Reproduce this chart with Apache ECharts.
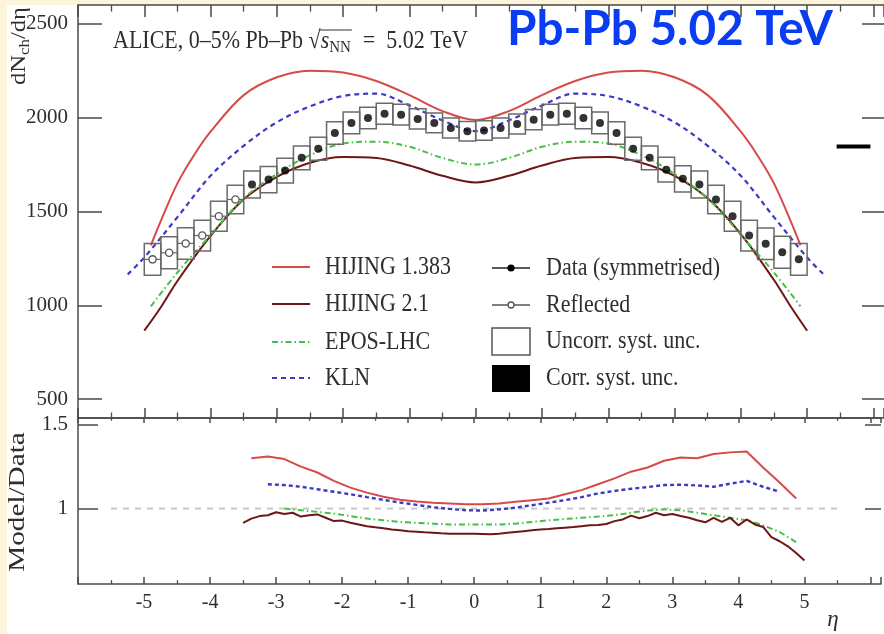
<!DOCTYPE html>
<html><head><meta charset="utf-8">
<script src="https://cdn.jsdelivr.net/npm/echarts@6/dist/echarts.min.js"></script>
<style>
html,body{margin:0;padding:0;background:#fcf4db;}
#wrap{position:relative;width:884px;height:634px;background:#fcf4db;overflow:hidden}
#paper{position:absolute;left:7px;top:5px;width:877px;height:629px;background:#fff}
#chart{position:absolute;left:0;top:0;width:884px;height:634px}
</style></head><body>
<div id="wrap"><div id="paper"></div><div id="chart"></div></div>
<script>
// ---------------- DATA ----------------
// Reflected points (open circles)
const reflEta = [-4.875,-4.625,-4.375,-4.125,-3.875,-3.625];
const reflVal = [1245,1280,1330,1372,1475,1564];
// Symmetrised data (filled circles)
const symEta = [-3.375,-3.125,-2.875,-2.625,-2.375,-2.125,-1.875,-1.625,-1.375,-1.125,-0.875,-0.625,-0.375,-0.125,
  0.125,0.375,0.625,0.875,1.125,1.375,1.625,1.875,2.125,2.375,2.625,2.875,3.125,3.375,3.625,3.875,4.125,4.375,4.625,4.875];
const symVal = [1644,1670,1718,1786,1834,1918,1972,1998,2021,2016,1993,1972,1945,1927,
  1932,1945,1966,1989,2016,2021,1998,1972,1918,1834,1786,1723,1674,1644,1564,1475,1372,1328,1283,1245];
// Uncorrelated systematic uncertainty (half height) for reflected + symmetrised bins, in order
const uncorrSyst = [85,85,84,82,80,76,
  72,70,66,63,61,60,58,57,56,55,54,53,53,52,
  52,53,53,54,55,56,57,58,60,61,63,66,70,72,76,80,82,84,85,85];
// Correlated systematic uncertainty box
const corrEta = [5.7];
const corrVal = [1846];
const corrUnc = [11];

// Model curves (upper panel)
const h1383Eta = [-4.9,-4.75,-4.5,-4.25,-4.0,-3.5,-3.0,-2.5,-2.0,-1.5,-1.0,-0.5,0,0.5,1.0,1.5,2.0,2.5,3.0,3.5,4.0,4.25,4.5,4.75,4.9];
const h1383Val = [1320,1450,1650,1800,1925,2120,2215,2250,2240,2195,2120,2035,1988,2035,2120,2195,2240,2250,2215,2120,1925,1800,1650,1450,1320];
const h21Eta = [-5,-4.75,-4.5,-4.0,-3.5,-3.0,-2.5,-2.0,-1.5,-1.0,-0.5,0,0.5,1.0,1.5,2.0,2.5,3.0,3.5,4.0,4.5,4.75,5];
const h21Val = [865,990,1130,1370,1565,1685,1760,1790,1785,1745,1690,1655,1690,1745,1785,1790,1760,1690,1570,1380,1135,995,865];
const eposEta = [-4.9,-4.5,-4.0,-3.5,-3.0,-2.5,-2.0,-1.5,-1.0,-0.5,0,0.5,1.0,1.5,2.0,2.5,3.0,3.5,4.0,4.5,4.9];
const eposVal = [995,1175,1375,1570,1700,1800,1862,1872,1845,1785,1750,1785,1845,1872,1862,1800,1700,1570,1375,1175,995];
const klnEta = [-5.25,-5.0,-4.5,-4.0,-3.5,-3.0,-2.5,-2.0,-1.5,-1.0,-0.5,0,0.5,1.0,1.5,2.0,2.5,3.0,3.5,4.0,4.5,5.0,5.25];
const klnVal = [1165,1255,1470,1690,1850,1975,2060,2115,2128,2065,1985,1928,1985,2065,2128,2115,2060,1975,1850,1690,1470,1255,1165];

// Ratio curves (lower panel)
const refEta = [-5.5,5.5];
const refVal = [1,1];
const rH1383Eta = [-3.375,-3.125,-2.875,-2.625,-2.375,-2.125,-1.875,-1.625,-1.375,-1.125,-0.875,-0.625,-0.375,-0.125,
  0.125,0.375,0.625,0.875,1.125,1.375,1.625,1.875,2.125,2.375,2.625,2.875,3.125,3.375,3.625,3.875,4.125,4.375,4.625,4.875];
const rH1383 = [1.30,1.31,1.295,1.25,1.215,1.165,1.125,1.095,1.07,1.052,1.042,1.035,1.03,1.025,
  1.025,1.03,1.04,1.05,1.06,1.085,1.11,1.145,1.18,1.22,1.245,1.285,1.305,1.30,1.325,1.335,1.34,1.245,1.155,1.06];
const rKlnEta = [-3.125,-2.875,-2.625,-2.375,-2.125,-1.875,-1.625,-1.375,-1.125,-0.875,-0.625,-0.375,-0.125,
  0.125,0.375,0.625,0.875,1.125,1.375,1.625,1.875,2.125,2.375,2.625,2.875,3.125,3.375,3.625,3.875,4.125,4.375,4.625];
const rKln = [1.145,1.14,1.13,1.115,1.10,1.085,1.068,1.052,1.036,1.022,1.008,0.998,0.99,
  0.988,0.995,1.005,1.02,1.035,1.05,1.068,1.09,1.105,1.118,1.128,1.14,1.142,1.138,1.13,1.148,1.165,1.13,1.10];
const rEposEta = [-2.875,-2.625,-2.375,-2.125,-1.875,-1.625,-1.375,-1.125,-0.875,-0.625,-0.375,-0.125,
  0.125,0.375,0.625,0.875,1.125,1.375,1.625,1.875,2.125,2.375,2.625,2.875,3.125,3.375,3.625,3.875,4.125,4.375,4.625,4.875];
const rEpos = [1.0,0.99,0.98,0.97,0.955,0.94,0.93,0.92,0.915,0.91,0.905,0.905,
  0.905,0.905,0.91,0.92,0.93,0.938,0.945,0.952,0.96,0.975,0.988,0.995,0.99,0.975,0.96,0.945,0.93,0.9,0.86,0.80];
const rH21Eta = [-3.5,-3.375,-3.25,-3.125,-3.0,-2.875,-2.75,-2.625,-2.5,-2.375,-2.25,-2.125,-2.0,-1.875,-1.75,-1.625,-1.5,-1.375,-1.25,-1.125,-1.0,-0.875,-0.75,-0.625,-0.5,-0.375,-0.25,-0.125,
  0,0.125,0.25,0.375,0.5,0.625,0.75,0.875,1.0,1.125,1.25,1.375,1.5,1.625,1.75,1.875,2.0,2.125,2.25,2.375,2.5,2.625,2.75,2.875,3.0,3.125,3.25,3.375,3.5,3.625,3.75,3.875,4.0,4.125,4.25,4.375,4.5,4.625,4.75,4.875,5.0];
const rH21 = [0.915,0.94,0.955,0.96,0.978,0.968,0.975,0.952,0.96,0.965,0.945,0.925,0.928,0.915,0.905,0.895,0.888,0.882,0.875,0.87,0.865,0.862,0.858,0.855,0.852,0.85,0.85,0.85,
  0.85,0.848,0.846,0.85,0.855,0.86,0.865,0.87,0.875,0.878,0.882,0.886,0.89,0.895,0.9,0.902,0.908,0.925,0.935,0.958,0.942,0.955,0.975,0.96,0.968,0.955,0.945,0.93,0.918,0.945,0.92,0.945,0.9,0.935,0.905,0.89,0.83,0.805,0.775,0.735,0.69];

// Tick labels
const yTicksTop = [500,1000,1500,2000,2500];
const yTicksBot = [1,1.5];

// ---------------- STYLE ----------------
const C = {h1383:'#d64a48', h21:'#6e1616', epos:'#48bf48', kln:'#3a3ac6'};
const TXT = '#2e2e2e', AX = '#4a4a4a';
const SERIF = '"Liberation Serif","DejaVu Serif",serif';
const zip = (xs, ys) => xs.map((x,i)=>[x, ys[i]]);
const ctx = document.createElement('canvas').getContext('2d');
const tw = (t,f) => { ctx.font = f; return ctx.measureText(t).width; };

const XMIN = -6, XMAX = 6.16;
function xAx(gi, pos, len, lab){
  return {type:'value', gridIndex:gi, position:pos, min:XMIN, max:XMAX, interval:1,
    axisLine:{show:true, onZero:false, lineStyle:{color:AX, width:1.5}},
    axisTick:{show:true, inside:true, length:len, lineStyle:{color:AX, width:1.5}},
    minorTick:{show:true, splitNumber:2, length:len*0.55, lineStyle:{color:AX, width:1.3}},
    splitLine:{show:false}, minorSplitLine:{show:false},
    axisLabel:{show:lab, margin:9, color:TXT, fontFamily:SERIF, fontSize:20,
      formatter: v => (v < -5.5 || v > 5.5) ? '' : String(v)}};
}
function yAx(gi, pos, mn, mx, ticks, len, lab, line){
  return {type:'value', gridIndex:gi, position:pos, min:mn, max:mx,
    axisLine:{show:line, onZero:false, lineStyle:{color:AX, width:1.5}},
    axisTick:{show:true, inside:true, length:len, customValues:ticks, lineStyle:{color:AX, width:1.5}},
    splitLine:{show:false},
    axisLabel:{show:lab, customValues:ticks, margin:10, color:TXT, fontFamily:SERIF, fontSize:21,
      formatter: v => String(v)}};
}

const boxData = zip(reflEta.concat(symEta), reflVal.concat(symVal)).map((p,i)=>[p[0],p[1],uncorrSyst[i]]);
const BIN_HALF = 0.125;

function lineS(name, xs, ys, color, type, xi, yi, smooth, width){
  return {name, type:'line', xAxisIndex:xi, yAxisIndex:yi, data:zip(xs,ys), showSymbol:false, smooth:smooth,
    lineStyle:{color, width:width||2, type:type}, z:3, animation:false};
}
const DASH = [5,4], DASHDOT = [6,3,1.5,3];

const series = [
  lineS('HIJING 1.383', h1383Eta, h1383Val, C.h1383, 'solid', 0, 0, 0.35),
  lineS('HIJING 2.1', h21Eta, h21Val, C.h21, 'solid', 0, 0, 0.35),
  lineS('EPOS-LHC', eposEta, eposVal, C.epos, DASHDOT, 0, 0, 0.35),
  lineS('KLN', klnEta, klnVal, C.kln, DASH, 0, 0, 0.35, 2.2),
  {name:'Uncorr. syst. unc.', type:'custom', xAxisIndex:0, yAxisIndex:0, data:boxData, z:4,
    renderItem:(p, api)=>{
      const x=api.value(0), y=api.value(1), e=api.value(2);
      const a=api.coord([x-BIN_HALF, y+e]), b=api.coord([x+BIN_HALF, y-e]);
      return {type:'rect', shape:{x:a[0], y:a[1], width:b[0]-a[0], height:b[1]-a[1]},
        style:{fill:'none', stroke:'#6a6a6a', lineWidth:1.5}};
    }},
  {name:'Reflected', type:'custom', xAxisIndex:0, yAxisIndex:0, data:zip(reflEta, reflVal), z:5,
    renderItem:(p, api)=>{
      const x=api.value(0), y=api.value(1);
      const a=api.coord([x-BIN_HALF, y]), b=api.coord([x+BIN_HALF, y]), c=api.coord([x,y]);
      return {type:'group', children:[
        {type:'line', shape:{x1:a[0], y1:a[1], x2:b[0], y2:b[1]}, style:{stroke:'#666', lineWidth:1.2}},
        {type:'circle', shape:{cx:c[0], cy:c[1], r:3.6}, style:{fill:'#fff', stroke:'#555', lineWidth:1.3}}]};
    }},
  {name:'Data (symmetrised)', type:'scatter', xAxisIndex:0, yAxisIndex:0, data:zip(symEta, symVal),
    symbol:'circle', symbolSize:8, itemStyle:{color:'#000'}, z:6},
  {name:'Corr. syst. unc.', type:'custom', xAxisIndex:0, yAxisIndex:0, data:zip(corrEta, corrVal).map((p,i)=>[p[0],p[1],corrUnc[i]]), z:6,
    renderItem:(p, api)=>{
      const x=api.value(0), y=api.value(1), e=api.value(2);
      const a=api.coord([x-0.255, y+e]), b=api.coord([x+0.255, y-e]);
      return {type:'rect', shape:{x:a[0], y:a[1], width:b[0]-a[0], height:b[1]-a[1]}, style:{fill:'#000'}};
    }},
  // lower panel
  {name:'ref', type:'line', xAxisIndex:2, yAxisIndex:2, data:zip(refEta, refVal), showSymbol:false,
    lineStyle:{color:'#c9c9c9', width:2, type:[6,6]}, z:2},
  lineS('HIJING 1.383 r', rH1383Eta, rH1383, C.h1383, 'solid', 2, 2, false),
  lineS('KLN r', rKlnEta, rKln, C.kln, [4,3], 2, 2, false, 2.4),
  lineS('EPOS r', rEposEta, rEpos, C.epos, DASHDOT, 2, 2, false),
  lineS('HIJING 2.1 r', rH21Eta, rH21, C.h21, 'solid', 2, 2, false),
];

// ---------------- GRAPHICS (labels, legend) ----------------
const G = [];
function txt(t, x, y, font, opt){
  opt = opt || {};
  G.push(Object.assign({type:'text', x, y, z:10, style:{text:t, font, fill:opt.fill||TXT,
    align:opt.align||'left', verticalAlign:opt.va||'middle'}}, opt.el||{}));
}
// Title
(function(){
  const base = 'bold 44px Lato';
  const w = tw('Pb-Pb 5.02 TeV', base);
  const size = 44*326/w;
  txt('Pb-Pb 5.02 TeV', 507, 30, 'bold '+size.toFixed(1)+'px Lato', {fill:'#0a3df2'});
})();
// ALICE label
(function(){
  const F=22, sy=1.15, yM=41;
  const fm=F+'px '+SERIF, fi='italic '+F+'px '+SERIF, fs=Math.round(F*0.68)+'px '+SERIF;
  let x=113;
  const add=(t,f,dy)=>{ txt(t, x, yM+dy, f, {el:{scaleY:sy}}); x+=tw(t,f); };
  add('ALICE, 0–5% Pb–Pb ', fm, 0);
  add('√', fm, 0);
  const s0=x;
  add('s', fi, 0);
  add('NN', fs, 6);
  const s1=x;
  x += 12;
  add('=', fm, 0);
  x += 11;
  add('5.02 TeV', fm, 0);
  G.push({type:'line', z:10, shape:{x1:s0-1, y1:yM-11, x2:s1+1, y2:yM-11}, style:{stroke:TXT, lineWidth:1.2}});
})();
// Y title (rotated, reading upward, bottom end at y=86)
(function(){
  const F=22, fm=F+'px '+SERIF, fs='15px '+SERIF;
  const parts=[['d',fm,0],['N',fm,0],['ch',fs,6],['/',fm,0],['d',fm,0],['η',fm,0]];
  const ch=[]; let xx=0;
  parts.forEach(p=>{ ch.push({type:'text', x:xx, y:p[2], style:{text:p[0], font:p[1], fill:TXT, align:'left', verticalAlign:'middle'}}); xx+=tw(p[0],p[1]); });
  G.push({type:'group', x:19, y:85, rotation:Math.PI/2, scaleX:78/xx, z:10, children:ch});
})();
txt('Model/Data', 18, 502, '23px '+SERIF, {align:'center', el:{rotation:Math.PI/2, scaleX:1.27}});
txt('η', 833, 620, 'italic 23px '+SERIF, {align:'center'});

// Legend
const LF = '22px '+SERIF, LSY = 1.15;
[[series[0], 267],[series[1], 304],[series[2], 342],[series[3], 378]].forEach(([s, y])=>{
  G.push({type:'line', z:10, shape:{x1:272, y1:y, x2:310, y2:y}, style:{stroke:s.lineStyle.color, lineWidth:2, lineDash:Array.isArray(s.lineStyle.type)?s.lineStyle.type:null}});
  txt(s.name, 325, y, LF, {el:{scaleY:LSY}});
});
G.push({type:'line', z:10, shape:{x1:492, y1:268, x2:530, y2:268}, style:{stroke:'#222', lineWidth:1.5}});
G.push({type:'circle', z:11, shape:{cx:511, cy:268, r:3.6}, style:{fill:'#000'}});
txt('Data (symmetrised)', 546, 268, LF, {el:{scaleY:LSY}});
G.push({type:'line', z:10, shape:{x1:492, y1:305, x2:530, y2:305}, style:{stroke:'#555', lineWidth:1.3}});
G.push({type:'circle', z:11, shape:{cx:511, cy:305, r:3}, style:{fill:'#fff', stroke:'#555', lineWidth:1.3}});
txt('Reflected', 546, 305, LF, {el:{scaleY:LSY}});
G.push({type:'rect', z:10, shape:{x:492, y:328, width:38, height:27}, style:{fill:'#fff', stroke:'#555', lineWidth:1.5}});
txt('Uncorr. syst. unc.', 546, 341, LF, {el:{scaleY:LSY}});
G.push({type:'rect', z:10, shape:{x:492, y:365, width:38, height:27}, style:{fill:'#000'}});
txt('Corr. syst. unc.', 546, 378, LF, {el:{scaleY:LSY}});

const chart = echarts.init(document.getElementById('chart'), null, {width:884, height:634});
chart.setOption({
  animation:false,
  backgroundColor:'transparent',
  grid:[{left:78, top:5, right:0, height:413}, {left:78, top:418, right:0, height:166}],
  xAxis:[xAx(0,'bottom',10,false), xAx(0,'top',12,false), xAx(1,'bottom',7,true), xAx(1,'top',5,false)],
  yAxis:[yAx(0,'left',400,2600,yTicksTop,24,true,true), yAx(0,'right',400,2600,yTicksTop,22,false,false),
         yAx(1,'left',0.55,1.54,yTicksBot,20,true,true), yAx(1,'right',0.55,1.54,yTicksBot,16,false,false)],
  series,
  graphic:{elements:G}
});
</script>
</body></html>
